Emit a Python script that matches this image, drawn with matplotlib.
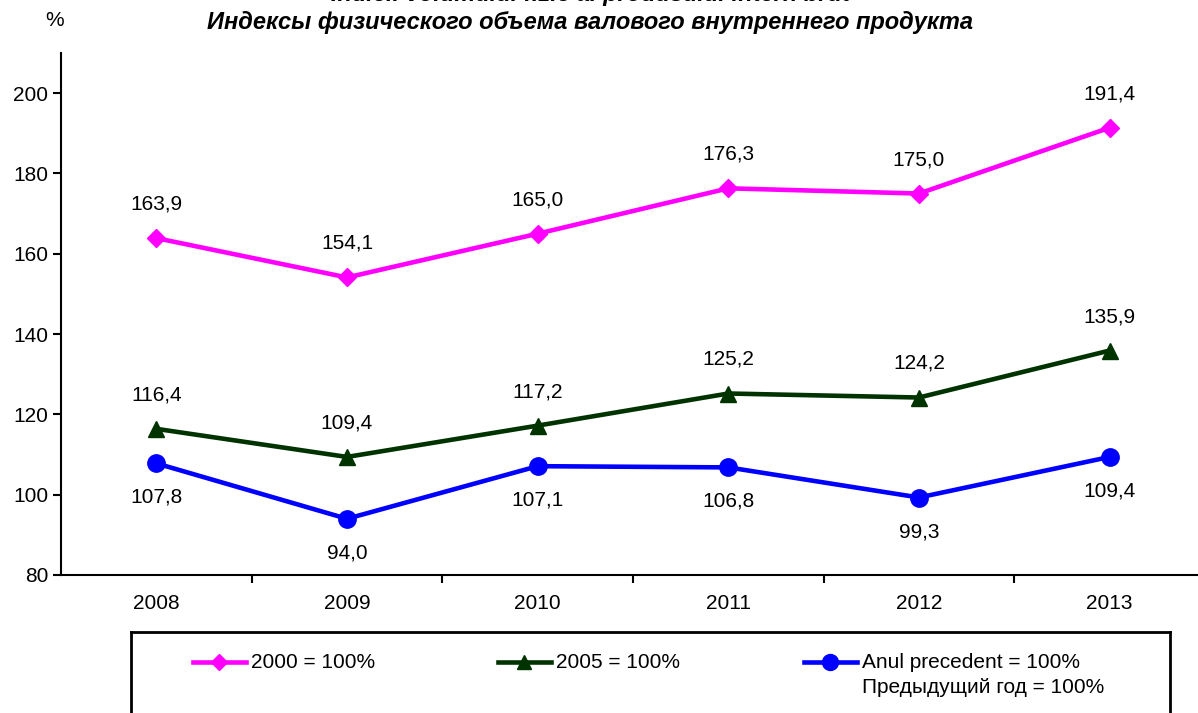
import numpy as np
import matplotlib.pyplot as plt

plt.rcParams['font.family'] = ['Liberation Sans', 'DejaVu Sans']

years = ['2008', '2009', '2010', '2011', '2012', '2013']
idx_2000 = [163.9, 154.1, 165.0, 176.3, 175.0, 191.4]
idx_2005 = [116.4, 109.4, 117.2, 125.2, 124.2, 135.9]
idx_prev = [107.8, 94.0, 107.1, 106.8, 99.3, 109.4]

labels = ['2000 = 100%', '2005 = 100%', 'Anul precedent = 100%\nПредыдущий год = 100%']

W, H = 1198, 713
fig = plt.figure(figsize=(W / 100, H / 100), dpi=100)

# axes in pixel coords: left 61, right 1205, bottom 575, top 53
ax = fig.add_axes([61 / W, (H - 575) / H, (1205 - 61) / W, (575 - 53) / H])

x = np.arange(len(years))
series = [
    (idx_2000, '#FF00FF', 'D', 9, 'above'),
    (idx_2005, '#003300', '^', 11, 'above'),
    (idx_prev, '#0000FF', 'o', 12.5, 'below'),
]

for vals, col, mk, ms, pos in series:
    ax.plot(x, vals, color=col, lw=3.3, marker=mk, ms=ms, clip_on=False)
    for xi, v in zip(x, vals):
        off = 24.5 if pos == 'above' else -24.5
        ax.annotate(f'{v:.1f}'.replace('.', ','), (xi, v), xytext=(0, off),
                    textcoords='offset points', ha='center', va='center',
                    fontsize=15)

ax.set_xlim(-0.5, 5.5)
ax.set_ylim(80, 210)
ax.set_yticks(np.arange(80, 201, 20))
ax.set_xticks(x)
ax.set_xticklabels(years)
ax.set_xticks(np.arange(0.5, 5, 1), minor=True)
ax.tick_params(axis='x', which='major', length=0, pad=14, labelsize=15)
ax.tick_params(axis='x', which='minor', length=6, width=1.5, direction='out')
ax.tick_params(axis='y', length=6, width=1.5, direction='out', labelsize=15, pad=3)
for s in ['top', 'right']:
    ax.spines[s].set_visible(False)
for s in ['left', 'bottom']:
    ax.spines[s].set_linewidth(1.5)

fig.text(55 / W, 1 - 20 / H, '%', fontsize=15, ha='center', va='center')
fig.text(590 / W, 1 - 22 / H, 'Индексы физического объема валового внутреннего продукта',
         fontsize=17, fontweight='bold', fontstyle='italic', ha='center', va='center')
# romanian title, cut off at the top edge as in the source
fig.text(590 / W, 1 + 6 / H, 'Indicii volumului fizic al produsului intern brut',
         fontsize=17, fontweight='bold', fontstyle='italic', ha='center', va='center')

# legend box (drawn in pixel coords)
lax = fig.add_axes([131 / W, 0, (1170 - 131) / W, (H - 632) / H])
lax.set_xticks([])
lax.set_yticks([])
for s in lax.spines.values():
    s.set_linewidth(2)
lax.spines['bottom'].set_visible(False)
lax.patch.set_alpha(0)
lax.set_xlim(131, 1170)
lax.set_ylim(H, 632)
starts = [193, 498, 804]
for (vals, col, mk, ms, pos), sx, lab in zip(series, starts, labels):
    lax.plot([sx, sx + 53], [662, 662], color=col, lw=3.3)
    lax.plot([sx + 26], [662], color=col, marker=mk, ms=ms - 1)
    lines = lab.split('\n')
    for i, t in enumerate(lines):
        lax.text(sx + 58, 662 + 25 * i, t, fontsize=15, va='center', ha='left')

fig.savefig('out.png', dpi=100)
